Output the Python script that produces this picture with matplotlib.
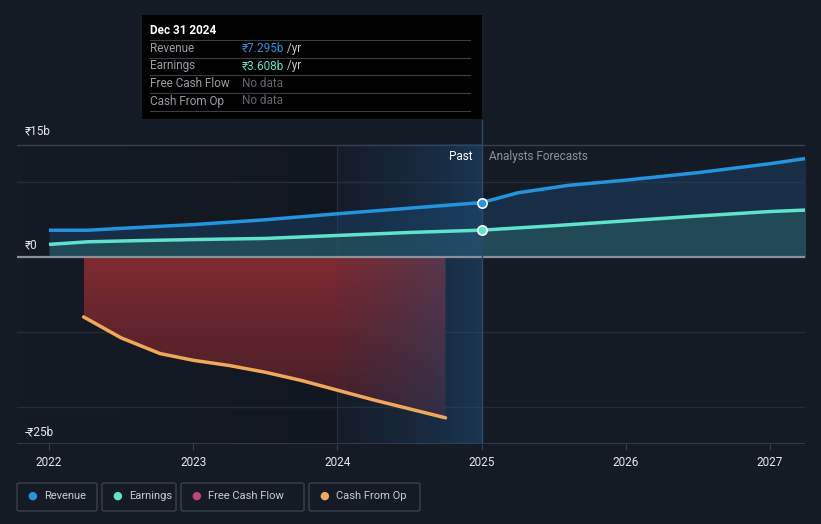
import numpy as np
import matplotlib.pyplot as plt
from matplotlib.colors import LinearSegmentedColormap
from matplotlib.patches import FancyBboxPatch

plt.rcParams['font.family'] = ['Roboto', 'DejaVu Sans']

# data (billions of rupees, x in decimal years)
rev_x = [2022.0, 2022.27, 2022.6, 2023.0, 2023.5, 2024.0, 2024.5, 2025.0]
rev_y = [3.6, 3.6, 3.95, 4.35, 5.0, 5.8, 6.55, 7.295]
rev_fx = [2025.0, 2025.25, 2025.6, 2026.0, 2026.5, 2027.0, 2027.25]
rev_fy = [7.295, 8.6, 9.6, 10.3, 11.3, 12.5, 13.2]

earn_x = [2022.0, 2022.27, 2022.6, 2023.0, 2023.5, 2024.0, 2024.5, 2025.0]
earn_y = [1.7, 2.05, 2.2, 2.35, 2.5, 2.9, 3.3, 3.608]
earn_fx = [2025.0, 2025.5, 2026.0, 2026.5, 2027.0, 2027.25]
earn_fy = [3.608, 4.2, 4.85, 5.5, 6.1, 6.3]

cfo_x = [2022.24, 2022.5, 2022.77, 2023.0, 2023.25, 2023.5, 2023.75, 2024.0, 2024.25, 2024.5, 2024.75]
cfo_y = [-8.0, -10.8, -12.9, -13.8, -14.5, -15.4, -16.5, -17.8, -19.1, -20.3, -21.5]

year_ticks = [2022, 2023, 2024, 2025, 2026, 2027]
tooltip_rows = [("Revenue", "₹7.295b", " /yr"), ("Earnings", "₹3.608b", " /yr"),
                ("Free Cash Flow", "No data", ""), ("Cash From Op", "No data", "")]
legend_names = ["Revenue", "Earnings", "Free Cash Flow", "Cash From Op"]

bg = "#151b25"
c_rev = "#2394df"
c_earn = "#5fe3cc"
c_fcf = "#c4407f"
c_cfo = "#f0a95a"

W, H = 821, 524
fig = plt.figure(figsize=(W / 100, H / 100), dpi=100, facecolor=bg)

# axes: x 17..805 px, y 120..444 px (15b at 145 px, -25b at 444 px)
ax = fig.add_axes([17 / W, (H - 444) / H, (805 - 17) / W, (444 - 120) / H])
ax.set_facecolor(bg)
x0 = 2022 - 32 / 144.2
x1 = 2022 + (805 - 49) / 144.2
ymin, ymax = -25, 15 + 25 * 40 / 299
ax.set_xlim(x0, x1)
ax.set_ylim(ymin, ymax)
for s in ax.spines.values():
    s.set_visible(False)

# darker region before 2024
dark = LinearSegmentedColormap.from_list("d", [(0.07, 0.09, 0.12, 0.0), (0.06, 0.08, 0.11, 0.6)])
ax.imshow(np.linspace(0, 1, 256).reshape(1, -1), cmap=dark, extent=[x0, 2024, -25, 15],
          aspect="auto", zorder=0.5)

# gridlines
for v in [10, -10, -20]:
    ax.axhline(v, color="#272d37", lw=1, zorder=1)
ax.axhline(15, color="#3a404b", lw=1, zorder=1)
ax.axhline(-25, color="#3a404b", lw=1.2, zorder=1)
ax.plot([2024, 2024], [-25, 15], color="#26303c", lw=0.8, zorder=1)

# revenue / earnings fills
rx = rev_x + rev_fx[1:]
ry = rev_y + rev_fy[1:]
ex = earn_x + earn_fx[1:]
ey = earn_y + earn_fy[1:]
ax.fill_between(rx, 0, ry, color="#1b4670", alpha=0.45, lw=0, zorder=2)
ax.fill_between(ex, 0, ey, color="#2f6b6a", alpha=0.45, lw=0, zorder=2.1)

# cash from op red gradient fill
poly = ax.fill_between(cfo_x, 0, cfo_y, color="none", lw=0, zorder=2)
red = LinearSegmentedColormap.from_list("r", ["#3e1d28", "#7f2a30"])
im = ax.imshow(np.linspace(0, 1, 256).reshape(-1, 1), cmap=red, origin="lower",
               extent=[cfo_x[0], cfo_x[-1], -22, 0], aspect="auto", zorder=2.2)
im.set_clip_path(poly.get_paths()[0], transform=ax.transData)

# past shading 2024 -> 2025
blue = LinearSegmentedColormap.from_list("b", [(0.1, 0.25, 0.4, 0.05), (0.12, 0.32, 0.5, 0.5)])
ax.imshow(np.linspace(0, 1, 256).reshape(1, -1), cmap=blue, extent=[2024, 2025, -25, 15],
          aspect="auto", zorder=2.5)

# zero line
ax.axhline(0, color="#8b9098", lw=1.6, zorder=3)

# lines
ax.plot(rev_x, rev_y, color=c_rev, lw=2.5, zorder=4, solid_capstyle="butt")
ax.plot(rev_fx, rev_fy, color=c_rev, lw=2.5, zorder=4, solid_capstyle="butt")
ax.plot(earn_x, earn_y, color=c_earn, lw=2.5, zorder=4, solid_capstyle="butt")
ax.plot(earn_fx, earn_fy, color=c_earn, lw=2.5, zorder=4, solid_capstyle="butt")
ax.plot(cfo_x, cfo_y, color=c_cfo, lw=2.5, zorder=4, solid_capstyle="round")

# today line and markers
ax.plot([2025, 2025], [-25, ymax], color="#2b4a66", lw=1, zorder=3.5)
ax.scatter([2025], [rev_y[-1]], s=45, color=c_rev, edgecolor="white", lw=1.2, zorder=5)
ax.scatter([2025], [earn_y[-1]], s=45, color=c_earn, edgecolor="white", lw=1.2, zorder=5)

ax.text(2025 - 0.06, 13.5, "Past", color="white", fontsize=8.5, ha="right", va="center", zorder=6)
ax.text(2025 + 0.05, 13.5, "Analysts Forecasts", color="#8d9299", fontsize=8.5,
        ha="left", va="center", zorder=6)

# x ticks
ax.set_xticks(year_ticks)
ax.set_xticklabels([str(y) for y in year_ticks], color="#e6e8ea", fontsize=8.5)
ax.tick_params(axis="x", length=4, color="#3a404b", pad=5)
ax.set_yticks([])

# y labels
fig.text(25 / W, 1 - 131 / H, "₹15b", color="#e6e8ea", fontsize=8.5, va="center")
fig.text(25 / W, 1 - 245 / H, "₹0", color="#e6e8ea", fontsize=8.5, va="center")
fig.text(25 / W, 1 - 432 / H, "-₹25b", color="#e6e8ea", fontsize=8.5, va="center")

# tooltip
tip = fig.add_axes([142 / W, 1 - 119 / H, (482 - 142) / W, (119 - 15) / H])
tip.set_xlim(142, 482)
tip.set_ylim(119, 15)
tip.set_facecolor("black")
tip.set_xticks([])
tip.set_yticks([])
for s in tip.spines.values():
    s.set_visible(False)
tip.text(150, 31, "Dec 31 2024", color="white", fontsize=8.5, fontweight="bold", va="center")
for i, (name, val, unit) in enumerate(tooltip_rows):
    yy = 48.5 + i * 17.5
    tip.plot([150, 470], [yy - 8.5, yy - 8.5], color="#3a3d42", lw=0.8)
    tip.text(150, yy, name, color="#9a9ea4", fontsize=8.5, va="center")
    col = c_rev if i == 0 else (c_earn if i == 1 else "#62666c")
    t = tip.text(242, yy, val, color=col, fontsize=8.5, va="center")
    if unit:
        tip.annotate(unit, xycoords=t, xy=(1, 0.5), va="center", color="#c8cbcf", fontsize=8.5)
tip.plot([150, 470], [111, 111], color="#3a3d42", lw=0.8)

# legend boxes
boxes = [(17, 97), (102, 176), (181, 304), (309, 420)]
colors = [c_rev, c_earn, c_fcf, c_cfo]
for (a, b), name, c in zip(boxes, legend_names, colors):
    fig.patches.append(FancyBboxPatch((a / W, 1 - 511 / H), (b - a) / W, 28 / H,
                                      boxstyle="round,pad=0,rounding_size=0.003",
                                      transform=fig.transFigure, facecolor=bg,
                                      edgecolor="#3b4049", lw=1))
    fig.text((a + 15) / W, 1 - 496 / H, "●", color=c, fontsize=8, ha="center", va="center")
    fig.text((a + 27) / W, 1 - 496 / H, name, color="#c9ccd0", fontsize=8, va="center")

fig.savefig("out.png", dpi=100, facecolor=bg)
